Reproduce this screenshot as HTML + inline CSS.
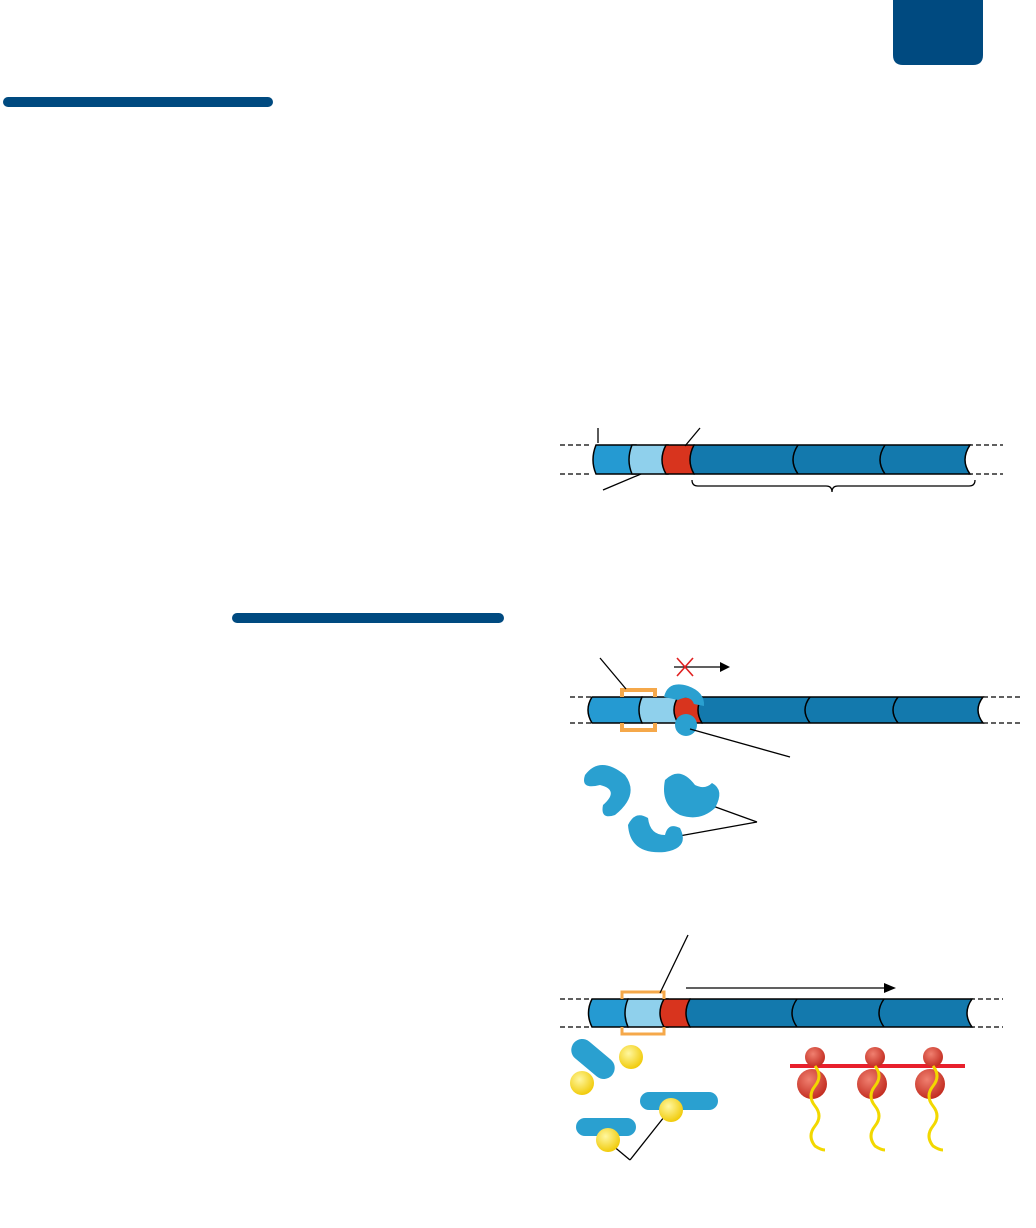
<!DOCTYPE html>
<html><head><style>html,body{margin:0;padding:0;background:#fff;}svg{display:block}</style></head>
<body>
<svg width="1036" height="1228" viewBox="0 0 1036 1228" xmlns="http://www.w3.org/2000/svg">
<defs>
<radialGradient id="y" cx="0.4" cy="0.35" r="0.7"><stop offset="0" stop-color="#fff7a0"/><stop offset="1" stop-color="#f0c800"/></radialGradient>
<radialGradient id="r" cx="0.4" cy="0.35" r="0.7"><stop offset="0" stop-color="#f08070"/><stop offset="1" stop-color="#c0281c"/></radialGradient>
</defs>
<path d="M893 0 H983 V55 Q983 65 973 65 H903 Q893 65 893 55 Z" fill="#004a80"/>
<rect x="3" y="97" width="270" height="10" rx="5" fill="#004a80"/>
<rect x="232" y="613" width="272" height="10" rx="5" fill="#004a80"/>

<g stroke="#000" stroke-width="1.3" fill="none" stroke-dasharray="5,3">
<line x1="560" y1="445" x2="592" y2="445"/><line x1="560" y1="474" x2="592" y2="474"/>
<line x1="968" y1="445" x2="1003" y2="445"/><line x1="968" y1="474" x2="1003" y2="474"/>
</g>
<g stroke="#000" stroke-width="1.5">
<path d="M596 445 H636 V474 H596 Q590 460 596 445Z" fill="#259ad2"/>
<path d="M632 445 H668 V474 H632 Q626 460 632 445Z" fill="#8fd0ec"/>
<path d="M666 445 H694 V474 H666 Q658 460 666 445Z" fill="#d8341e"/>
<path d="M694 445 H970 Q960 460 970 474 H694 Q686 460 694 445Z" fill="#1379ad"/>
<path d="M798 445 Q788 460 798 474" fill="none"/><path d="M885 445 Q875 460 885 474" fill="none"/>
</g>
<g stroke="#000" stroke-width="1.3" fill="none">
<line x1="598" y1="443" x2="598" y2="428"/><line x1="685" y1="446" x2="700" y2="428"/>
<line x1="603" y1="490" x2="641" y2="474"/>
<path d="M692 480 Q692 486 698 486 H826 Q832 486 832 492 Q832 486 838 486 H969 Q975 486 975 480"/>
</g>

<g stroke="#000" stroke-width="1.3" fill="none" stroke-dasharray="5,3">
<line x1="570" y1="697" x2="592" y2="697"/><line x1="570" y1="723" x2="592" y2="723"/>
<line x1="983" y1="697" x2="1020" y2="697"/><line x1="983" y1="723" x2="1020" y2="723"/>
</g>
<g stroke="#000" stroke-width="1.5">
<path d="M592 697 H642 V723 H592 Q584 710 592 697Z" fill="#259ad2"/>
<path d="M642 697 H680 V723 H642 Q636 710 642 697Z" fill="#8fd0ec"/>
<path d="M678 697 H702 V723 H678 Q670 710 678 697Z" fill="#d8341e"/>
<path d="M702 697 H983 Q973 710 983 723 H702 Q694 710 702 697Z" fill="#1379ad"/>
<path d="M810 697 Q800 710 810 723" fill="none"/><path d="M898 697 Q888 710 898 723" fill="none"/>
</g>
<g fill="none" stroke="#f5a84a" stroke-width="4"><path d="M622 697 V690 H655 V697"/><path d="M622 723 V730 H655 V723"/></g>
<path d="M664 697 Q668 680 688 686 Q705 692 704 706 L694 704 Q690 694 678 700 Z" fill="#2aa0d0"/>
<circle cx="686" cy="725" r="11" fill="#2aa0d0"/>
<g stroke="#000" stroke-width="1.3" fill="none">
<line x1="600" y1="658" x2="626" y2="689"/>
<line x1="690" y1="729" x2="790" y2="757"/>
<line x1="674" y1="667" x2="722" y2="667"/>
<line x1="710" y1="805" x2="757" y2="822"/><line x1="668" y1="838" x2="757" y2="822"/>
</g>
<path d="M720 662 L730 667 L720 672 Z" fill="#000"/>
<g stroke="#e02020" stroke-width="1.6"><line x1="677" y1="658" x2="693" y2="676"/><line x1="693" y1="658" x2="677" y2="676"/></g>
<g fill="#2aa0d0">
<path d="M585 775 Q600 755 625 775 Q640 795 615 815 Q600 820 603 805 Q620 790 600 785 Q580 790 585 775Z"/>
<path d="M665 780 Q680 765 695 785 Q705 790 712 783 Q725 790 715 808 Q700 822 680 815 Q660 805 665 780Z"/>
<path d="M628 825 Q635 810 648 818 Q650 835 665 835 Q668 822 680 828 Q690 848 665 852 Q630 855 628 825Z"/>
</g>

<g stroke="#000" stroke-width="1.3" fill="none" stroke-dasharray="5,3">
<line x1="560" y1="999" x2="590" y2="999"/><line x1="560" y1="1027" x2="590" y2="1027"/>
<line x1="970" y1="999" x2="1003" y2="999"/><line x1="970" y1="1027" x2="1003" y2="1027"/>
</g>
<g stroke="#000" stroke-width="1.5">
<path d="M592 999 H628 V1027 H592 Q585 1013 592 999Z" fill="#259ad2"/>
<path d="M628 999 H668 V1027 H628 Q622 1013 628 999Z" fill="#8fd0ec"/>
<path d="M664 999 H690 V1027 H664 Q656 1013 664 999Z" fill="#d8341e"/>
<path d="M690 999 H972 Q962 1013 972 1027 H690 Q682 1013 690 999Z" fill="#1379ad"/>
<path d="M797 999 Q787 1013 797 1027" fill="none"/><path d="M884 999 Q874 1013 884 1027" fill="none"/>
</g>
<g fill="none" stroke="#f5a84a" stroke-width="3"><path d="M622 999 V992 H664 V999"/><path d="M622 1027 V1034 H664 V1027"/></g>
<g stroke="#000" stroke-width="1.3" fill="none">
<line x1="688" y1="935" x2="660" y2="993"/>
<line x1="686" y1="988" x2="885" y2="988"/>
<line x1="612" y1="1145" x2="630" y2="1160"/><line x1="668" y1="1112" x2="630" y2="1160"/>
</g>
<path d="M884 983 L896 988 L884 993 Z" fill="#000"/>
<g fill="#2aa0d0">
<rect x="568" y="1048" width="50" height="22" rx="11" transform="rotate(40 593 1059)"/>
<rect x="640" y="1092" width="78" height="18" rx="9"/>
<rect x="576" y="1118" width="60" height="18" rx="9"/>
</g>
<g fill="url(#y)">
<circle cx="631" cy="1057" r="12"/><circle cx="582" cy="1083" r="12"/><circle cx="671" cy="1110" r="12"/><circle cx="608" cy="1140" r="12"/>
</g>
<line x1="790" y1="1066" x2="965" y2="1066" stroke="#e8202c" stroke-width="4"/>
<g fill="url(#r)">
<circle cx="815" cy="1057" r="10"/><circle cx="812" cy="1084" r="15"/>
<circle cx="875" cy="1057" r="10"/><circle cx="872" cy="1084" r="15"/>
<circle cx="933" cy="1057" r="10"/><circle cx="930" cy="1084" r="15"/>
</g>
<g fill="none" stroke="#f2d800" stroke-width="3">
<path d="M815 1066 q8 10 0 20 q-8 10 0 20 q8 10 0 20 q-8 10 0 20 q6 4 10 4"/>
<path d="M875 1066 q8 10 0 20 q-8 10 0 20 q8 10 0 20 q-8 10 0 20 q6 4 10 4"/>
<path d="M933 1066 q8 10 0 20 q-8 10 0 20 q8 10 0 20 q-8 10 0 20 q6 4 10 4"/>
</g>
</svg>
</body></html>
